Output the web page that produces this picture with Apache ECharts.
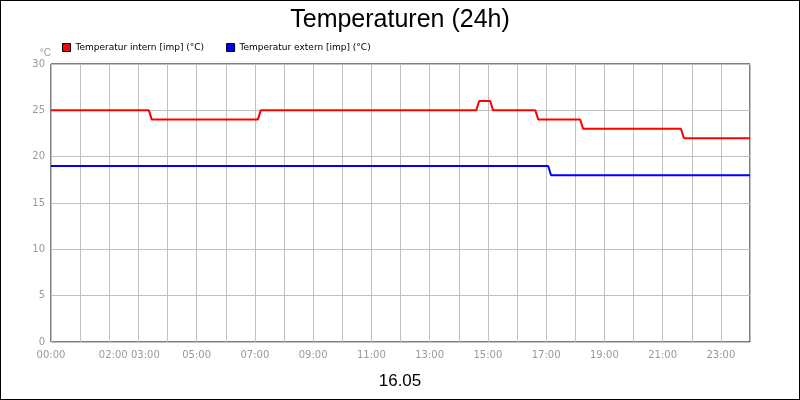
<!DOCTYPE html>
<html><head><meta charset="utf-8">
<script src="https://cdn.jsdelivr.net/npm/echarts@6/dist/echarts.min.js"></script>
<style>html,body{margin:0;padding:0;background:#fff}#c{width:798px;height:398px;border:1px solid #000}</style>
</head><body><div id="c"></div>
<script>
const hourLabels = ['00:00','','02:00','03:00','','05:00','','07:00','','09:00','','11:00','','13:00','','15:00','','17:00','','19:00','','21:00','','23:00',''];
const internHours = [0,3.36,3.46,7.1,7.2,14.6,14.7,15.08,15.18,16.63,16.73,18.17,18.27,21.63,21.73,24];
const internVals  = [25,25,24,24,25,25,26,26,25,25,24,24,23,23,22,22];
const externHours = [0,17.07,17.17,24];
const externVals  = [19,19,18,18];
const zip=(a,b)=>a.map((x,i)=>[x,b[i]]);
const chart = echarts.init(document.getElementById('c'));
chart.setOption({
  animation:false,
  title:[{text:'Temperaturen (24h)',left:'center',top:2,textStyle:{fontSize:25,fontWeight:'normal',color:'#000',fontFamily:'Liberation Sans'}},
         {text:'16.05',left:'center',top:367,textStyle:{fontSize:17,fontWeight:'normal',color:'#000',fontFamily:'Liberation Sans'}}],
  legend:{left:56,top:37,itemWidth:8,itemHeight:8,itemGap:22,icon:'rect',
    textStyle:{fontSize:9,color:'#000',fontFamily:'DejaVu Sans'},
    data:[{name:'Temperatur intern [imp] (°C)',itemStyle:{color:'#ff0000',borderColor:'#000',borderWidth:1}},
          {name:'Temperatur extern [imp] (°C)',itemStyle:{color:'#0000ff',borderColor:'#000',borderWidth:1}}]},
  grid:{left:50,right:49,top:63,bottom:57,show:true,borderColor:'#000',borderWidth:1},
  xAxis:{type:'value',min:0,max:24,interval:1,
    axisLine:{show:false},axisTick:{show:false},
    axisLabel:{color:'#999',fontSize:10,fontFamily:'DejaVu Sans',showMaxLabel:false,
      formatter:v=>{const s=hourLabels[v]||''; if(v===2) return '{l|'+s+'}'; if(v===3) return '{r|'+s+'}'; return s;},
      rich:{l:{color:'#999',fontSize:10,padding:[0,0,0,8]},r:{color:'#999',fontSize:10,padding:[0,0,0,14]}}},
    splitLine:{lineStyle:{color:'#c0c0c0',width:1}}},
  yAxis:{type:'value',min:0,max:30,interval:5,name:'°C',nameGap:6,
    nameTextStyle:{color:'#999',fontSize:10,align:'right'},
    axisLine:{show:false},axisTick:{show:false},
    axisLabel:{color:'#999',fontSize:10,fontFamily:'DejaVu Sans',margin:6},
    splitLine:{lineStyle:{color:'#c0c0c0',width:1}}},
  series:[
    {name:'Temperatur intern [imp] (°C)',type:'line',data:zip(internHours,internVals),showSymbol:false,lineStyle:{color:'#ff0000',width:2},itemStyle:{color:'#ff0000'}},
    {name:'Temperatur extern [imp] (°C)',type:'line',data:zip(externHours,externVals),showSymbol:false,lineStyle:{color:'#0000ff',width:2},itemStyle:{color:'#0000ff'}}
  ]
});
</script></body></html>
